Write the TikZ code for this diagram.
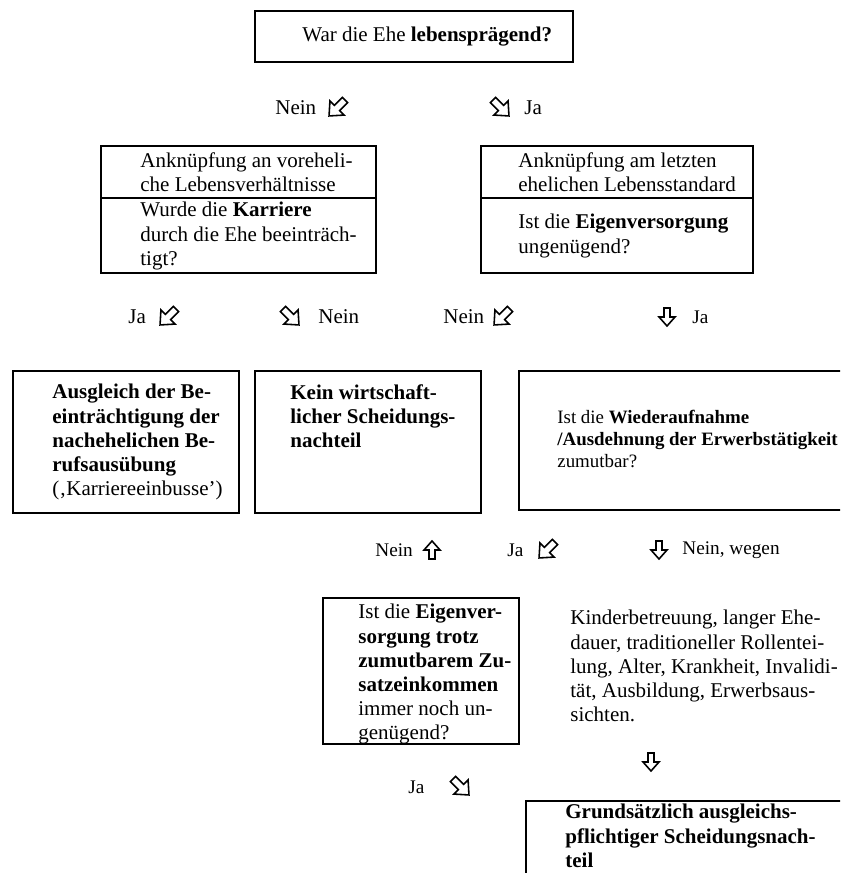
\documentclass[tikz,border=0pt]{standalone}
\usepackage{fontspec}
\setmainfont{Liberation Serif}
\usetikzlibrary{positioning}
\newcommand\pxu{0.5714pt}

\begin{document}
\begin{tikzpicture}[x=\pxu, y=-\pxu]
\tikzset{box/.style ={draw, line width=1pt, anchor=north west, inner sep=0pt}}
\tikzset{txt/.style ={anchor=north west, inner sep=0pt, align=left, font=\fontsize{12}{13.8}\selectfont}}
\tikzset{lbl/.style ={anchor=west, inner sep=0pt, font=\fontsize{12}{14}\selectfont}}
\tikzset{lblsmall/.style ={lbl, font=\fontsize{11}{13}\selectfont}}
\tikzset{pics/harrow/.style ={code={
  \draw[line width=0.9pt] (-3,-9) -- (3,-9) -- (3,0) -- (8,0) -- (0,9) -- (-8,0) -- (-3,0) -- cycle;}}}
\tikzset{diag/.style ={scale=1.25}}
\useasboundingbox (0,0) rectangle (840,873);
\clip (0,0) rectangle (840,873);
% boxes
\node[box, minimum width=318*\pxu, minimum height=51*\pxu] (praeg) at (254,10) {};
\node[box, minimum width=275*\pxu, minimum height=52*\pxu] (vorehe) at (100,145) {};
\node[box, minimum width=275*\pxu, minimum height=75*\pxu] (vorkarr) at (100,197) {};
\node[box, minimum width=272*\pxu, minimum height=52*\pxu] (ehest) at (480,145) {};
\node[box, minimum width=272*\pxu, minimum height=75*\pxu] (eigen) at (480,197) {};
\node[box, minimum width=226*\pxu, minimum height=142*\pxu] (karr) at (12,370) {};
\node[box, minimum width=226*\pxu, minimum height=142*\pxu] (kein) at (254,370) {};
\node[box, minimum width=332*\pxu, minimum height=139*\pxu] (wieder) at (518,370) {};
\node[box, minimum width=196*\pxu, minimum height=146*\pxu] (zusatz) at (322,597) {};
\node[box, minimum width=325*\pxu, minimum height=80*\pxu] (grund) at (525,800) {};
% texts
\node[txt] (praeg-t) at (302,27) {War die Ehe \textbf{lebensprägend?}};
\node[txt] (vorehe-t) at (140,152) {Anknüpfung an voreheli-\\che Lebensverhältnisse};
\node[txt] (vorkarr-t) at (140,202) {Wurde die \textbf{Karriere}\\durch die Ehe beeinträch-\\tigt?};
\node[txt] (ehest-t) at (518,152) {Anknüpfung am letzten\\ehelichen Lebensstandard};
\node[txt] (eigen-t) at (518,214) {Ist die \textbf{Eigenversorgung}\\ungenügend?};
\node[txt] (karr-t) at (52,384) {\textbf{Ausgleich der Be-}\\\textbf{einträchtigung der}\\\textbf{nachehelichen Be-}\\\textbf{rufsausübung}\\(‚Karriereeinbusse’)};
\node[txt] (kein-t) at (290,384) {\textbf{Kein wirtschaft-}\\\textbf{licher Scheidungs-}\\\textbf{nachteil}};
\node[txt, font=\fontsize{10.8}{12.6}\selectfont] (wieder-t) at (557,410) {Ist die \textbf{Wiederaufnahme}\\\textbf{/Ausdehnung der Erwerbstätigkeit}\\zumutbar?};
\node[txt] (zusatz-t) at (358,604) {Ist die \textbf{Eigenver-}\\\textbf{sorgung trotz}\\\textbf{zumutbarem Zu-}\\\textbf{satzeinkommen}\\immer noch un-\\genügend?};
\node[txt] (wegen-t) at (570,610) {Kinderbetreuung, langer Ehe-\\dauer, traditioneller Rollentei-\\lung, Alter, Krankheit, Invalidi-\\tät, Ausbildung, Erwerbsaus-\\sichten.};
\node[txt] (grund-t) at (565,804) {\textbf{Grundsätzlich ausgleichs-}\\\textbf{pflichtiger Scheidungsnach-}\\\textbf{teil}};
% answers
\node[lbl] (nein1) at (275,108) {Nein};
\pic[diag, rotate=-45] at (337,108) {harrow};
\pic[diag, rotate=45] at (501,108) {harrow};
\node[lbl] (ja1) at (524,108) {Ja};
\node[lbl] (ja2) at (128,317) {Ja};
\pic[diag, rotate=-45] at (168,317) {harrow};
\pic[diag, rotate=45] at (291,317) {harrow};
\node[lbl] (nein2) at (318,317) {Nein};
\node[lbl] (nein3) at (443,317) {Nein};
\pic[diag, rotate=-45] at (502,317) {harrow};
\pic at (667,317) {harrow};
\node[lblsmall] (ja3) at (692,317) {Ja};
\node[lblsmall] (nein4) at (375,550) {Nein};
\pic[rotate=180] at (432,550) {harrow};
\node[lblsmall] (ja4) at (507,550) {Ja};
\pic[diag, rotate=-45] at (547,550) {harrow};
\pic at (659,550) {harrow};
\node[lblsmall] (nein5) at (682,550) {Nein, wegen};
\node[lblsmall] (ja5) at (408,787) {Ja};
\pic[diag, rotate=45] at (461,787) {harrow};
\pic at (651,762) {harrow};
\end{tikzpicture}
\end{document}
